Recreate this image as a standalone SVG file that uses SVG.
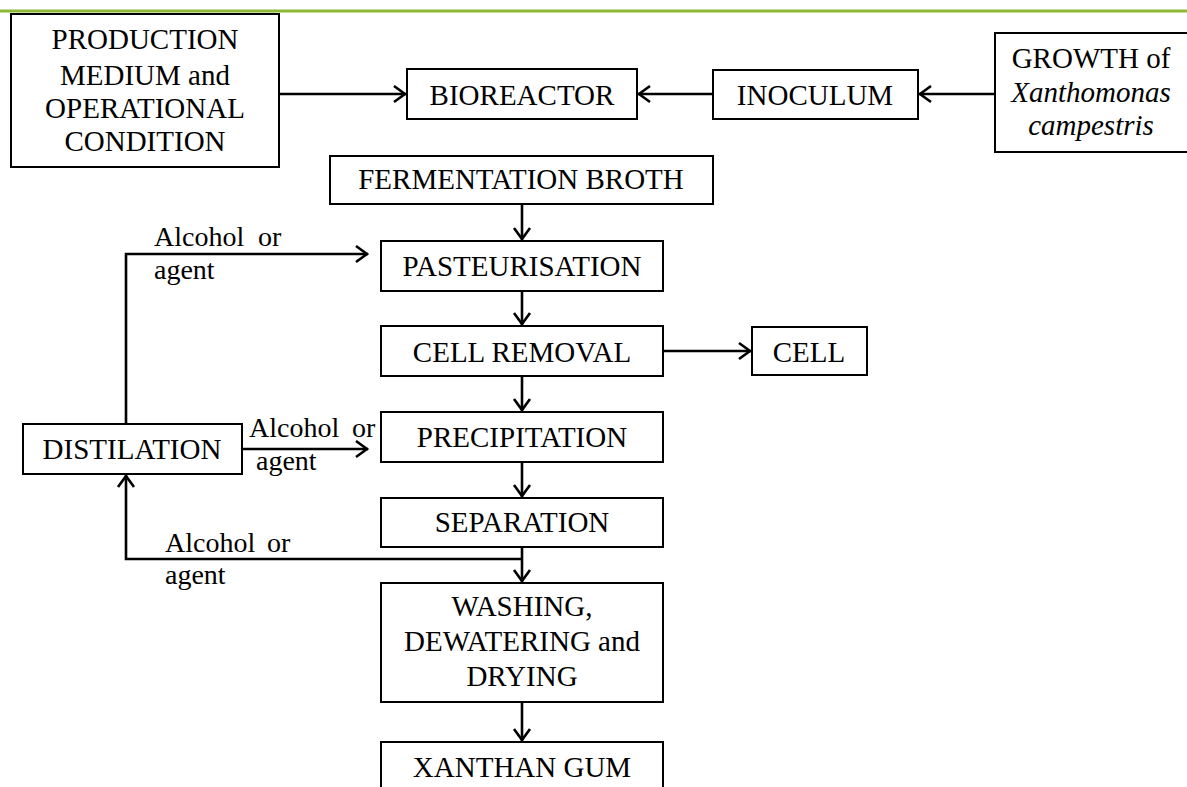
<svg xmlns="http://www.w3.org/2000/svg" width="1187" height="787" viewBox="0 0 1187 787">
<defs>
<style>
.box{fill:#fff;stroke:#000;stroke-width:2}
.t{font-family:'Liberation Serif','DejaVu Serif',serif;font-size:29px;fill:#000;text-anchor:middle}
.lb{font-family:'Liberation Serif','DejaVu Serif',serif;font-size:28px;fill:#000}
.c{fill:none;stroke:#000;stroke-width:2.6}
.i{font-style:italic}
</style>
<marker id="ar" markerUnits="userSpaceOnUse" markerWidth="30" markerHeight="30" viewBox="-15 -15 30 30" refX="0" refY="0" orient="auto">
<path d="M-12,-8 L-1,0 L-12,8" fill="none" stroke="#000" stroke-width="2.6"/>
</marker>
</defs>
<rect width="1187" height="787" fill="#fff"/>
<line x1="0" y1="11" x2="1187" y2="11" stroke="#8cba35" stroke-width="3"/>

<g id="connectors">
<line class="c" x1="280" y1="94" x2="406" y2="94" marker-end="url(#ar)"/>
<line class="c" x1="713" y1="94" x2="638" y2="94" marker-end="url(#ar)"/>
<line class="c" x1="995" y1="94" x2="919" y2="94" marker-end="url(#ar)"/>
<line class="c" x1="522" y1="205" x2="522" y2="240" marker-end="url(#ar)"/>
<line class="c" x1="522" y1="292" x2="522" y2="325" marker-end="url(#ar)"/>
<line class="c" x1="664" y1="351" x2="751" y2="351" marker-end="url(#ar)"/>
<line class="c" x1="522" y1="377" x2="522" y2="411" marker-end="url(#ar)"/>
<line class="c" x1="522" y1="463" x2="522" y2="497" marker-end="url(#ar)"/>
<line class="c" x1="522" y1="548" x2="522" y2="582" marker-end="url(#ar)"/>
<line class="c" x1="522" y1="703" x2="522" y2="741" marker-end="url(#ar)"/>
<polyline class="c" points="522,559 126,559 126,475" marker-end="url(#ar)"/>
<polyline class="c" points="126,424 126,254 368,254" marker-end="url(#ar)"/>
<line class="c" x1="243" y1="449" x2="368" y2="449" marker-end="url(#ar)"/>
<text class="lb" y="246"><tspan x="154">Alcohol</tspan><tspan x="258">or</tspan></text>
<text class="lb" x="154" y="279">agent</text>
<text class="lb" y="437"><tspan x="249">Alcohol</tspan><tspan x="352">or</tspan></text>
<text class="lb" x="256" y="470">agent</text>
<text class="lb" y="552"><tspan x="165">Alcohol</tspan><tspan x="267">or</tspan></text>
<text class="lb" x="165" y="584">agent</text>
</g>

<g id="production">
<rect class="box" x="11" y="14" width="268" height="153"/>
<text class="t" x="145" y="49">PRODUCTION</text>
<text class="t" x="145" y="85">MEDIUM and</text>
<text class="t" x="145" y="118">OPERATIONAL</text>
<text class="t" x="145" y="151">CONDITION</text>
</g>
<g id="bioreactor">
<rect class="box" x="407" y="69" width="230" height="50"/>
<text class="t" x="522" y="105">BIOREACTOR</text>
</g>
<g id="inoculum">
<rect class="box" x="713" y="70" width="205" height="49"/>
<text class="t" x="815" y="105">INOCULUM</text>
</g>
<g id="growth">
<rect class="box" x="995" y="33" width="196" height="119"/>
<text class="t" x="1091" y="68">GROWTH of</text>
<text class="t i" x="1091" y="102">Xanthomonas</text>
<text class="t i" x="1091" y="135">campestris</text>
</g>
<g id="fermentation">
<rect class="box" x="330" y="156" width="383" height="48"/>
<text class="t" x="521" y="189">FERMENTATION BROTH</text>
</g>
<g id="pasteurisation">
<rect class="box" x="381" y="241" width="282" height="50"/>
<text class="t" x="522" y="276">PASTEURISATION</text>
</g>
<g id="cellremoval">
<rect class="box" x="381" y="326" width="282" height="50"/>
<text class="t" x="522" y="362">CELL REMOVAL</text>
</g>
<g id="cell">
<rect class="box" x="752" y="327" width="115" height="48"/>
<text class="t" x="809" y="362">CELL</text>
</g>
<g id="precipitation">
<rect class="box" x="381" y="412" width="282" height="50"/>
<text class="t" x="522" y="447">PRECIPITATION</text>
</g>
<g id="separation">
<rect class="box" x="381" y="498" width="282" height="49"/>
<text class="t" x="522" y="532">SEPARATION</text>
</g>
<g id="washing">
<rect class="box" x="381" y="583" width="282" height="119"/>
<text class="t" x="522" y="616">WASHING,</text>
<text class="t" x="522" y="651">DEWATERING and</text>
<text class="t" x="522" y="686">DRYING</text>
</g>
<g id="xanthan">
<rect class="box" x="381" y="742" width="282" height="60"/>
<text class="t" x="522" y="777">XANTHAN GUM</text>
</g>
<g id="distilation">
<rect class="box" x="23" y="424" width="219" height="50"/>
<text class="t" x="132" y="459">DISTILATION</text>
</g>
</svg>
